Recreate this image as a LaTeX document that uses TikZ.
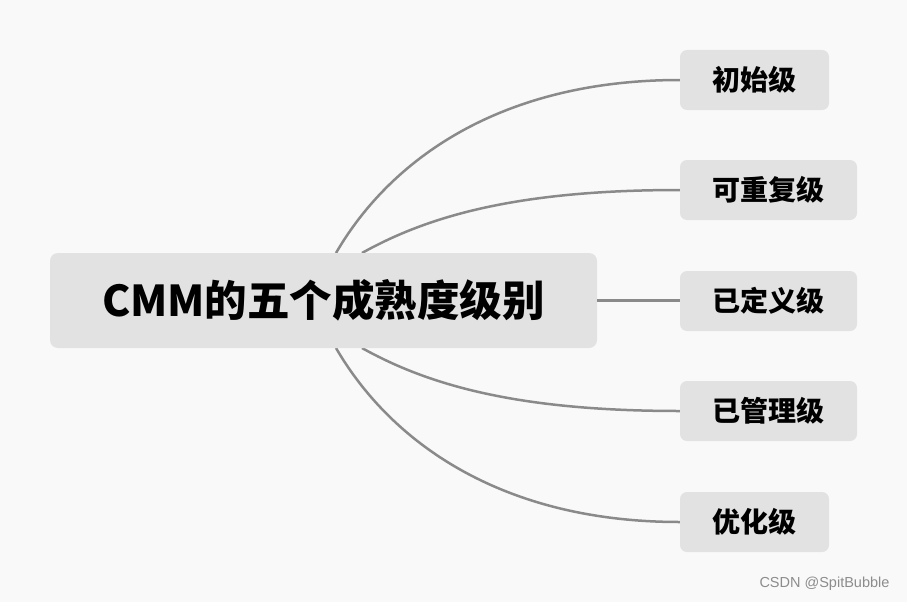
\documentclass[tikz,border=0pt]{standalone}
\usepackage{fontspec}
\newfontfamily\cjk{Noto Sans CJK SC}
\newfontfamily\wm{Liberation Sans}
\definecolor{bg}{HTML}{F9F9F9}
\definecolor{boxfill}{HTML}{E2E2E2}
\definecolor{linec}{HTML}{8A8A8A}
\begin{document}
\begin{tikzpicture}[x=1pt,y=-1pt,
  mainbox/.style={fill=boxfill,rounded corners=8pt,minimum width=547pt,minimum height=95pt,inner sep=0pt,font=\cjk\bfseries\fontsize{42.5}{46}\selectfont},
  leaf/.style={fill=boxfill,rounded corners=7pt,minimum height=60pt,inner sep=0pt,font=\cjk\bfseries\fontsize{28}{32}\selectfont},
  conn/.style={draw=linec,line width=2.5pt}]
\useasboundingbox[fill=bg] (0,0) rectangle (907,602);
\coordinate (s1) at (336,253);
\coordinate (s2) at (362,253);
\coordinate (s4) at (362,348);
\coordinate (s5) at (336,348);
\node[leaf,minimum width=149pt] (n1) at (754.5,80) {初始级};
\node[leaf,minimum width=177pt] (n2) at (768.5,190) {可重复级};
\node[leaf,minimum width=177pt] (n3) at (768.5,301) {已定义级};
\node[leaf,minimum width=177pt] (n4) at (768.5,411) {已管理级};
\node[leaf,minimum width=149pt] (n5) at (754.5,522) {优化级};
\draw[conn] (s1) .. controls (390,160) and (500,80) .. (n1.west);
\draw[conn] (s2) .. controls (430,215) and (520,190) .. (n2.west);
\draw[conn] (s4) .. controls (430,386) and (520,411) .. (n4.west);
\draw[conn] (s5) .. controls (390,441) and (500,522) .. (n5.west);
\node[mainbox] (m) at (323.5,300.5) {CMM的五个成熟度级别};
\draw[conn] (m.east) -- (m.east -| n3.west);
\node[font=\wm\fontsize{14.5}{16}\selectfont,text=black!45,anchor=east] (wm) at (893,584) {CSDN @SpitBubble};
\end{tikzpicture}
\end{document}
